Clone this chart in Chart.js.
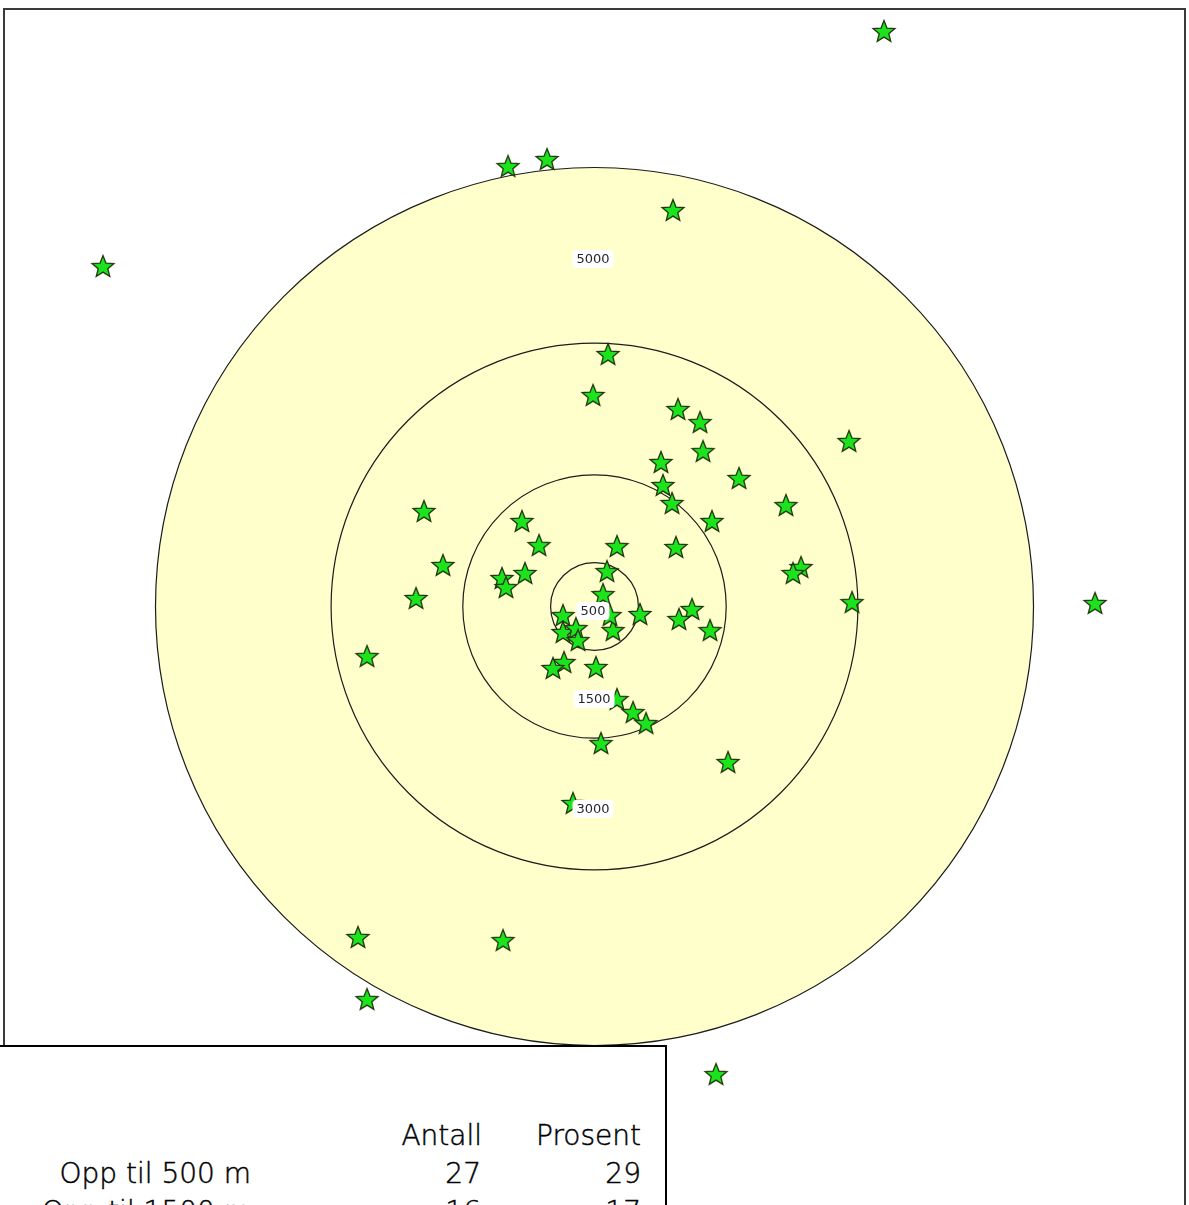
<!DOCTYPE html>
<html>
<head>
<meta charset="utf-8">
<script src="https://cdn.jsdelivr.net/npm/chart.js@4/dist/chart.umd.min.js"></script>
<style>
  html, body { margin: 0; padding: 0; background: #fff; }
  body { width: 1189px; height: 1205px; overflow: hidden; position: relative; }
  #wrap { position: absolute; left: 0; top: 0; width: 1189px; height: 1205px; }
  #frame { position: absolute; left: 3px; top: 8px; width: 1179px; height: 1250px;
           border-top: 2px solid #3a3a3a; border-left: 2px solid #3a3a3a; border-right: 2px solid #3a3a3a;
           pointer-events: none; }
  #table { position: absolute; left: 0; top: 1045px; width: 665px; height: 260px; background: #fff;
           border-top: 2px solid #000; border-right: 2px solid #000;
           font-family: "DejaVu Sans", sans-serif; font-weight: 200; font-size: 28px; color: #000;
           -webkit-text-stroke: 0.45px #000; }
  #table span { position: absolute; white-space: nowrap; line-height: 1; }
</style>
</head>
<body>
<div id="wrap"><canvas id="c" width="1189" height="1205"></canvas></div>
<div id="frame"></div>
<div id="table"></div>
<script>
// ---- data (metres east / north of the centre point) ----
const ringRadii  = [500, 1500, 3000, 5000];
const ringLabels = ['500', '1500', '3000', '5000'];
const ringLabelX = [-17, -6, -17, -17];
const ringLabelY = [-51, -1054, -2306, 3957];

const starX = [3297, -985, -541, 894, -5598, 154, -17, 951, 1202, 2899,
               1236, 757, 1646, 780, 883, 2181, -1942, 1338, -826, -632,
               256, 928, -1726, 142, -1054, -792, -1008, 2352, 2261, -2033,
               97, 2933, 5701, 518, -359, 1111, 962, 211, 1316, -359,
               -211, -188, 177, -2591, -347, -473, 17, 256, 439, 587,
               74, 1521, -245, -2694, -1042, -2591, 1384];
const starY = [6555, 5017, 5097, 4516, 3878, 2876, 2409, 2250, 2101, 1885,
               1771, 1646, 1464, 1384, 1179, 1156, 1088, 974, 974, 700,
               689, 678, 473, 404, 325, 382, 222, 450, 382, 97,
               142, 51, 40, -85, -97, -28, -142, -268, -268, -290,
               -245, -382, -97, -564, -632, -700, -689, -1054, -1202, -1327,
               -1555, -1771, -2238, -3764, -3799, -4471, -5325];

const tableHeaders  = ['Antall', 'Prosent'];
const rowLabels     = ['Opp til 500 m', 'Opp til 1500 m'];
const rowCounts     = [27, 16];
const rowPercents   = [29, 17];

// ---- star point image ----
function makeStar() {
  const c = document.createElement('canvas');
  c.width = 26; c.height = 26;
  const g = c.getContext('2d');
  const cx = 13, cy = 14.1, R = 11.5, r = 5.0;
  g.beginPath();
  for (let i = 0; i < 10; i++) {
    const a = -Math.PI / 2 + i * Math.PI / 5;
    const rad = i % 2 === 0 ? R : r;
    const px = cx + rad * Math.cos(a), py = cy + rad * Math.sin(a);
    if (i === 0) g.moveTo(px, py); else g.lineTo(px, py);
  }
  g.closePath();
  g.fillStyle = '#1ce41c';
  g.fill();
  g.lineWidth = 1.3;
  g.strokeStyle = '#23360f';
  g.stroke();
  return c;
}

const points = starX.map((x, i) => ({ x: x, y: starY[i] }));

const ringsPlugin = {
  id: 'rings',
  beforeDatasetsDraw(chart) {
    const { ctx, scales: { x, y } } = chart;
    const cx = x.getPixelForValue(0), cy = y.getPixelForValue(0);
    ctx.save();
    const outer = ringRadii[ringRadii.length - 1];
    const ro = x.getPixelForValue(outer) - cx;
    ctx.beginPath();
    ctx.arc(cx, cy, ro, 0, Math.PI * 2);
    ctx.fillStyle = '#ffffcc';
    ctx.fill();
    ctx.strokeStyle = '#1c1c1c';
    ctx.lineWidth = 1.2;
    ringRadii.forEach(rm => {
      const r = x.getPixelForValue(rm) - cx;
      ctx.beginPath();
      ctx.arc(cx, cy, r, 0, Math.PI * 2);
      ctx.stroke();
    });
    ctx.restore();
  },
  afterDatasetsDraw(chart) {
    const { ctx, scales: { x, y } } = chart;
    ctx.save();
    ctx.font = '13px "DejaVu Sans", sans-serif';
    ctx.textAlign = 'center';
    ctx.textBaseline = 'middle';
    ringLabels.forEach((t, i) => {
      const px = x.getPixelForValue(ringLabelX[i]);
      const py = y.getPixelForValue(ringLabelY[i]);
      const w = ctx.measureText(t).width + 8, h = 18;
      ctx.fillStyle = '#ffffff';
      ctx.beginPath();
      ctx.roundRect(px - w / 2, py - h / 2, w, h, 4);
      ctx.fill();
      ctx.fillStyle = '#26262e';
      ctx.fillText(t, px, py + 0.5);
    });
    ctx.restore();
  }
};

const pxPerM = 0.0878;
const W = 1189, H = 1205, CX = 594.5, CY = 606.5;

new Chart(document.getElementById('c'), {
  type: 'scatter',
  data: {
    datasets: [{
      data: points,
      pointStyle: makeStar(),
      pointRadius: 11,
      pointHoverRadius: 11,
      clip: false
    }]
  },
  options: {
    responsive: false,
    animation: false,
    events: [],
    layout: { padding: 0, autoPadding: false },
    plugins: { legend: { display: false }, tooltip: { enabled: false } },
    scales: {
      x: { type: 'linear', display: false, min: -CX / pxPerM, max: (W - CX) / pxPerM },
      y: { type: 'linear', display: false, min: -(H - CY) / pxPerM, max: CY / pxPerM }
    }
  },
  plugins: [ringsPlugin]
});

// ---- table text ----
const tbl = document.getElementById('table');
function addText(txt, right, top) {
  const s = document.createElement('span');
  s.textContent = txt;
  s.style.right = (665 - right) + 'px';
  s.style.top = top + 'px';
  tbl.appendChild(s);
}
// positions relative to the table box (top at y=1045)
addText(tableHeaders[0], 482, 75);
addText(tableHeaders[1], 641, 75);
rowLabels.forEach((lab, i) => {
  const t = 113 + i * 38;
  addText(lab, 251, t);
  addText(String(rowCounts[i]), 481, t);
  addText(String(rowPercents[i]), 641, t);
});
</script>
</body>
</html>
